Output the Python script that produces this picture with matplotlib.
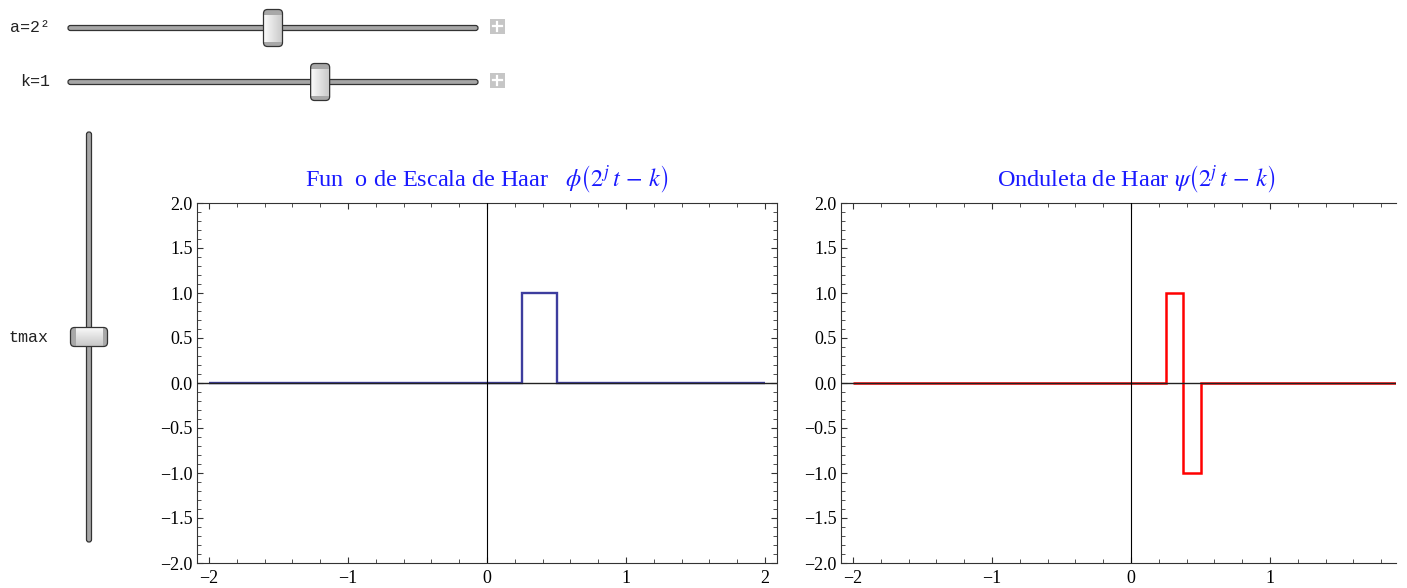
import numpy as np
import matplotlib
matplotlib.use("Agg")
import matplotlib.pyplot as plt
from matplotlib.patches import FancyBboxPatch, Rectangle
from matplotlib.ticker import MultipleLocator, FuncFormatter

plt.rcParams['font.family'] = ['Liberation Serif', 'DejaVu Serif']
plt.rcParams['mathtext.fontset'] = 'stix'

# Haar scaling function and wavelet for j=2, k=1
phi_edges = [-2, 0.25, 0.5, 2]
phi_vals = [0, 1, 0]
psi_edges = [-2, 0.25, 0.375, 0.5, 2]
psi_vals = [0, 1, -1, 0]

title_phi = r"Fun  o de Escala de Haar   $\phi\left(2_{\,}^{j}\,t\,-\,k\right)$"
title_psi = r"Onduleta de Haar $\psi\left(2_{\,}^{j}\,t\,-\,k\right)$"

# slider controls (label, position of the thumb along the track 0..1)
slider_labels = ["a=2²", "k=1", "tmax"]
slider_pos = [0.5, 0.615, 0.5]

W, H = 1407, 588
fig = plt.figure(figsize=(W / 100, H / 100), dpi=100)


def px_axes(x0, y0, x1, y1, **kw):
    return fig.add_axes([x0 / W, 1 - y1 / H, (x1 - x0) / W, (y1 - y0) / H], **kw)


def minus(s):
    return s.replace('-', '\u2212')


def style(ax, xlim, right=True):
    ax.set_xlim(xlim)
    ax.set_ylim(-2, 2)
    ax.xaxis.set_major_locator(MultipleLocator(1))
    ax.xaxis.set_minor_locator(MultipleLocator(0.2))
    ax.yaxis.set_major_locator(MultipleLocator(0.5))
    ax.yaxis.set_minor_locator(MultipleLocator(0.1))
    ax.xaxis.set_major_formatter(FuncFormatter(lambda v, p: minus(f"{round(v) + 0:d}")))
    ax.yaxis.set_major_formatter(FuncFormatter(lambda v, p: minus(f"{v + 0.0:.1f}")))
    ax.tick_params(which='both', direction='in', top=True, right=right,
                   color='#333333', labelsize=13)
    ax.tick_params(which='major', length=4.5, width=0.8)
    ax.tick_params(which='minor', length=2.6, width=0.6)
    ax.tick_params(axis='y', pad=3)
    ax.tick_params(axis='x', pad=5)
    for s in ax.spines.values():
        s.set_color('#333333')
        s.set_linewidth(0.8)
    if not right:
        ax.spines['right'].set_visible(False)
    ax.axhline(0, color='#222222', lw=1.0, zorder=3)
    ax.axvline(0, color='black', lw=0.8, zorder=3)


ax1 = px_axes(197, 203, 777, 563)
ax1.stairs(phi_vals, phi_edges, baseline=None, color=(0.24, 0.24, 0.62), lw=1.7)
style(ax1, (-2.086, 2.086))
ax1.set_title(title_phi, color='#1a1aff', fontsize=17.5, pad=12)

ax2 = px_axes(841, 203, 1396, 563)
ax2.stairs(psi_vals, psi_edges, baseline=None, color='red', lw=1.8)
style(ax2, (-2.086, 1.906), right=False)
ax2.set_title(title_psi, color='#1a1aff', fontsize=17.5, pad=12, x=0.533)

# ---- slider widgets drawn in pixel coordinates ----
ax0 = fig.add_axes([0, 0, 1, 1], zorder=-1)


def thumb(cx, cy, w, h, vertical_grad):
    x0, y0 = cx - w / 2, cy - h / 2
    p = FancyBboxPatch((x0, y0), w, h, boxstyle='round,pad=0,rounding_size=4',
                       fc='none', ec='#333333', lw=0.9, zorder=5)
    ax0.add_patch(p)
    g = np.linspace(0.98, 0.78, 40)
    img = g[:, None] if vertical_grad else g[None, :]
    im = ax0.imshow(img, cmap='gray', vmin=0, vmax=1, extent=(x0, x0 + w, y0 + h, y0),
                    aspect='auto', zorder=4, interpolation='bilinear')
    im.set_clip_path(p)
    if vertical_grad:
        caps = [Rectangle((x0, y0), 5, h), Rectangle((x0 + w - 5, y0), 5, h)]
    else:
        caps = [Rectangle((x0, y0), w, 5), Rectangle((x0, y0 + h - 5), w, 5)]
    for c in caps:
        c.set_facecolor('#a8a8a8')
        c.set_edgecolor('none')
        c.set_zorder(4.5)
        ax0.add_patch(c)
        c.set_clip_path(p)


def track(x0, y0, w, h):
    ax0.add_patch(FancyBboxPatch((x0, y0), w, h, boxstyle='round,pad=0,rounding_size=2.4',
                                 fc='#a6a6a6', ec='#333333', lw=0.9, zorder=3))


def plus(cx, cy):
    ax0.add_patch(Rectangle((cx - 7.5, cy - 7.5), 15, 15, fc='#c6c6c6', ec='none'))
    ax0.plot([cx - 4.5, cx + 4.5], [cy, cy], color='white', lw=1.6)
    ax0.plot([cx, cx], [cy - 4.5, cy + 4.5], color='white', lw=1.6)


mono = dict(family=['Liberation Mono', 'DejaVu Sans Mono'], fontsize=12, va='center', color='#222222')

for i, cy in enumerate([28, 82]):
    track(68, cy - 2.5, 410, 5)
    thumb(68 + slider_pos[i] * 410, cy, 19, 37, False)
    plus(497, cy - 2)
    ax0.text(50, cy, slider_labels[i], ha='right', **mono)

track(86.5, 132, 5, 410)
thumb(89, 542 - slider_pos[2] * 410, 37, 19, True)
ax0.text(8, 338, slider_labels[2], ha='left', **mono)

ax0.set_xlim(0, W)
ax0.set_ylim(H, 0)
ax0.axis('off')

fig.savefig('out.png', dpi=100)
